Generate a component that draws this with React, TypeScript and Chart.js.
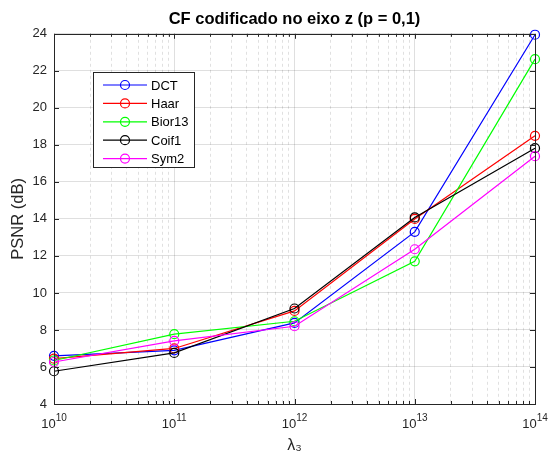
import React, { useEffect, useRef } from "react";
import { Chart, registerables } from "chart.js";

Chart.register(...registerables);

const lambdaValues = [1e10, 1e11, 1e12, 1e13, 1e14];
const seriesNames = ["DCT", "Haar", "Bior13", "Coif1", "Sym2"];
const dctPsnr = [6.6, 6.9, 8.38, 13.3, 23.95];
const haarPsnr = [6.45, 7.0, 9.03, 14.0, 18.49];
const bior13Psnr = [6.35, 7.77, 8.47, 11.71, 22.63];
const coif1Psnr = [5.77, 6.76, 9.16, 14.08, 17.82];
const sym2Psnr = [6.27, 7.41, 8.2, 12.36, 17.39];
const seriesColors = ["#0000ff", "#ff0000", "#00ff00", "#000000", "#ff00ff"];
const xTickExponents = [10, 11, 12, 13, 14];
const yMin = 4;
const yMax = 24;
const yStep = 2;

const titleText = "CF codificado no eixo z (p = 0,1)";
const yTitle = "PSNR (dB)";
const xTitle = "λ₃";

const FONT = "'Liberation Sans', Arial, Helvetica, sans-serif";
const AXIS_COLOR = "#262626";

const isDecade = (v: number) => {
  const l = Math.log10(v);
  return Math.abs(l - Math.round(l)) < 1e-9;
};

const axesPlugin = {
  id: "matlabAxes",
  afterDraw(chart: any) {
    const { ctx, chartArea } = chart;
    const { left, right, top, bottom } = chartArea;
    const xs = chart.scales.x;
    const ys = chart.scales.y;
    ctx.save();
    ctx.strokeStyle = AXIS_COLOR;
    ctx.lineWidth = 1;
    ctx.beginPath();
    xs.ticks.forEach((t: any) => {
      const px = Math.round(xs.getPixelForValue(t.value)) + 0.5;
      const len = isDecade(t.value) ? 5 : 3;
      ctx.moveTo(px, bottom);
      ctx.lineTo(px, bottom - len);
      ctx.moveTo(px, top);
      ctx.lineTo(px, top + len);
    });
    ys.ticks.forEach((t: any) => {
      const py = Math.round(ys.getPixelForValue(t.value)) + 0.5;
      ctx.moveTo(left, py);
      ctx.lineTo(left + 5, py);
      ctx.moveTo(right, py);
      ctx.lineTo(right - 5, py);
    });
    ctx.stroke();
    ctx.strokeRect(Math.round(left) + 0.5, Math.round(top) + 0.5, Math.round(right - left), Math.round(bottom - top));
    ctx.fillStyle = AXIS_COLOR;
    ctx.textBaseline = "alphabetic";
    ctx.textAlign = "left";
    xTickExponents.forEach((e) => {
      const px = xs.getPixelForValue(Math.pow(10, e));
      ctx.font = `13px ${FONT}`;
      const wBase = ctx.measureText("10").width;
      ctx.font = `10px ${FONT}`;
      const wExp = ctx.measureText(String(e)).width;
      const x0 = px - (wBase + wExp) / 2;
      ctx.font = `13px ${FONT}`;
      ctx.fillText("10", x0, bottom + 24);
      ctx.font = `10px ${FONT}`;
      ctx.fillText(String(e), x0 + wBase, bottom + 17);
    });
    ctx.restore();
  },
};

const legendPlugin = {
  id: "boxLegend",
  afterDraw(chart: any) {
    const { ctx } = chart;
    const bx = 93, by = 72, bw = 101, bh = 95;
    ctx.save();
    ctx.fillStyle = "#ffffff";
    ctx.fillRect(bx, by, bw, bh);
    ctx.strokeStyle = AXIS_COLOR;
    ctx.lineWidth = 1;
    ctx.strokeRect(bx + 0.5, by + 0.5, bw, bh);
    ctx.font = `13px ${FONT}`;
    ctx.textBaseline = "middle";
    ctx.textAlign = "left";
    seriesNames.forEach((name, i) => {
      const y = by + 13 + i * 18.4;
      const col = seriesColors[i];
      ctx.strokeStyle = col;
      ctx.lineWidth = 1.2;
      ctx.beginPath();
      ctx.moveTo(103, y);
      ctx.lineTo(147, y);
      ctx.stroke();
      ctx.beginPath();
      ctx.arc(125, y, 4.5, 0, Math.PI * 2);
      ctx.stroke();
      ctx.fillStyle = "#000000";
      ctx.fillText(name, 151, y + 1);
    });
    ctx.restore();
  },
};

export default function App() {
  const canvasRef = useRef<HTMLCanvasElement | null>(null);

  useEffect(() => {
    const seriesValues = [dctPsnr, haarPsnr, bior13Psnr, coif1Psnr, sym2Psnr];
    const datasets = seriesNames.map((name, i) => ({
      label: name,
      data: lambdaValues.map((x, j) => ({ x, y: seriesValues[i][j] })),
      borderColor: seriesColors[i],
      backgroundColor: "transparent",
      borderWidth: 1.2,
      pointRadius: 4.5,
      pointBorderWidth: 1.2,
      pointBackgroundColor: "transparent",
      pointBorderColor: seriesColors[i],
      tension: 0,
      clip: false as any,
      order: seriesNames.length - i,
    }));

    const chart = new Chart(canvasRef.current as HTMLCanvasElement, {
      type: "line",
      data: { datasets },
      plugins: [axesPlugin, legendPlugin],
      options: {
        animation: false,
        responsive: false,
        maintainAspectRatio: false,
        devicePixelRatio: 1,
        layout: { padding: { top: 0, right: 14, left: 0, bottom: 0 } },
        plugins: {
          legend: { display: false },
          tooltip: { enabled: false },
          title: {
            display: true,
            fullSize: false,
            text: titleText,
            color: "#000000",
            font: { family: FONT, size: 16.5, weight: "bold" },
            padding: { top: 10, bottom: 4 },
          },
        },
        scales: {
          x: {
            type: "logarithmic",
            min: 1e10,
            max: 1e14,
            afterBuildTicks: (s: any) => {
              const list: any[] = [];
              for (let e = 10; e < 14; e++) {
                for (let m = 1; m <= 9; m++) list.push({ value: m * Math.pow(10, e) });
              }
              list.push({ value: 1e14 });
              s.ticks = list;
            },
            afterFit: (s: any) => {
              s.height = 55;
            },
            ticks: { autoSkip: false, maxRotation: 0, callback: () => "", font: { family: FONT, size: 13 } },
            grid: {
              drawTicks: false,
              lineWidth: 1,
              color: (c: any) =>
                c.tick && isDecade(c.tick.value) ? "rgba(38,38,38,0.15)" : "rgba(38,38,38,0.14)",
            },
            border: {
              display: false,
              dash: (c: any) => (c.tick && !isDecade(c.tick.value) ? [3, 3] : []),
            },
            title: {
              display: true,
              text: xTitle,
              color: AXIS_COLOR,
              font: { family: FONT, size: 16 },
              padding: { top: 0, bottom: 4 },
            },
          },
          y: {
            type: "linear",
            min: yMin,
            max: yMax,
            afterFit: (s: any) => {
              s.width = 54;
            },
            ticks: {
              stepSize: yStep,
              color: AXIS_COLOR,
              padding: 7,
              font: { family: FONT, size: 13 },
            },
            grid: { drawTicks: false, lineWidth: 1, color: "rgba(38,38,38,0.15)" },
            border: { display: false },
            title: {
              display: true,
              text: yTitle,
              color: AXIS_COLOR,
              font: { family: FONT, size: 16.5 },
              padding: { top: 9, bottom: 0 },
            },
          },
        },
      } as any,
    });
    return () => chart.destroy();
  }, []);

  return (
    <div style={{ position: "absolute", left: 0, top: 0, width: 549, height: 459, background: "#fff" }}>
      <canvas ref={canvasRef} width={549} height={459} style={{ width: 549, height: 459 }} />
    </div>
  );
}
